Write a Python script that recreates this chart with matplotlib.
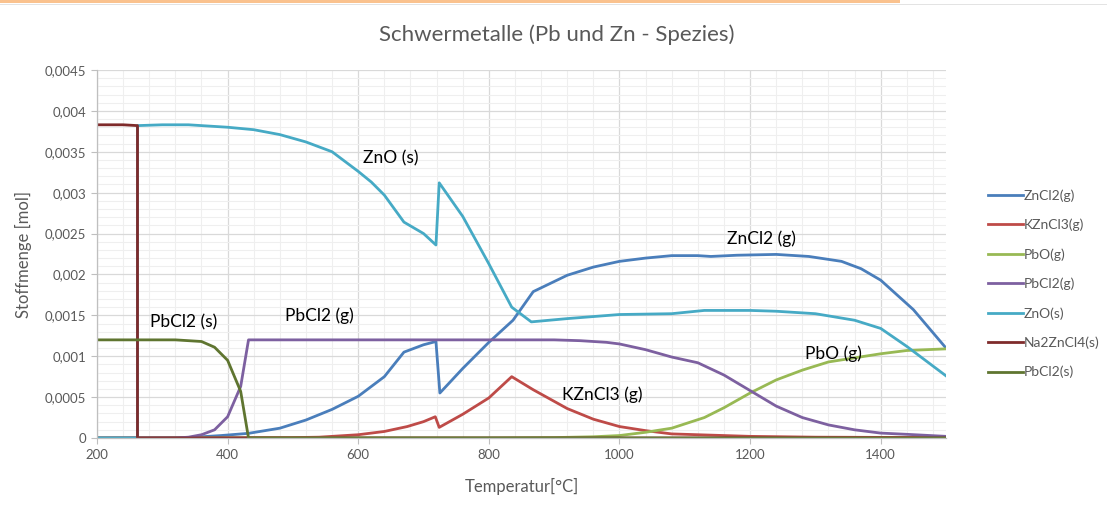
import matplotlib
matplotlib.use("Agg")
import matplotlib.pyplot as plt
from matplotlib.patches import Rectangle
from matplotlib.ticker import MultipleLocator

plt.rcParams['font.family'] = ['Lato', 'DejaVu Sans']

# Temperatur [°C] / Stoffmenge [mol] je Spezies
t_zncl2 = [200, 340, 390, 432, 480, 520, 560, 600, 640, 670, 700, 719, 725, 760, 800, 837, 868,
           920, 960, 1000, 1040, 1080, 1120, 1140, 1180, 1240, 1290, 1340, 1370, 1400, 1450, 1500]
zncl2 = [0, 0.000005, 0.00003, 0.000057, 0.00012, 0.00022, 0.00035, 0.00051, 0.00075, 0.00105,
         0.00114, 0.00118, 0.00055, 0.00085, 0.00117, 0.00144, 0.00179,
         0.00199, 0.00209, 0.00216, 0.0022, 0.00223, 0.00223, 0.00222, 0.002235, 0.002245,
         0.00222, 0.00216, 0.00207, 0.00193, 0.00157, 0.0011]

t_kzncl3 = [200, 500, 540, 600, 640, 675, 700, 718, 724, 760, 800, 835, 868, 920, 960, 1000,
            1040, 1080, 1120, 1160, 1200, 1300, 1500]
kzncl3 = [0, 0.000005, 0.00001, 0.00004, 0.00008, 0.00014, 0.0002, 0.00026, 0.00013, 0.00029,
          0.00049, 0.00075, 0.00059, 0.00036, 0.00023, 0.00014,
          0.00009, 0.00005, 0.00004, 0.00003, 0.00002, 0.00001, 0.000005]

t_pbo = [200, 800, 900, 960, 1000, 1040, 1080, 1130, 1160, 1200, 1240, 1280, 1320, 1360,
         1400, 1440, 1500]
pbo = [0, 0, 0.000005, 0.000015, 0.00003, 0.00007, 0.00012, 0.00025, 0.00037, 0.00055,
       0.00071, 0.00083, 0.00093, 0.00098, 0.00103, 0.00107, 0.00109]

t_pbcl2_g = [200, 320, 340, 360, 380, 400, 420, 432, 900, 940, 980, 1000, 1040, 1080, 1120,
             1160, 1200, 1240, 1280, 1320, 1360, 1400, 1440, 1500]
pbcl2_g = [0, 0, 0.00001, 0.00004, 0.0001, 0.00026, 0.00063, 0.0012, 0.0012, 0.00119,
           0.00117, 0.00115, 0.00108, 0.00099, 0.00092,
           0.00077, 0.00058, 0.00039, 0.00025, 0.00016, 0.0001, 0.00006, 0.000045, 0.00002]

t_zno = [200, 262, 262, 300, 340, 400, 440, 480, 520, 560, 600, 620, 640, 670, 700, 719, 724,
         760, 800, 835, 865, 920, 1000, 1080, 1130, 1200, 1240, 1300, 1360, 1400, 1440, 1480, 1500]
zno = [0, 0, 0.00382, 0.00383, 0.00383, 0.0038, 0.00377, 0.00371, 0.00362, 0.0035, 0.00326,
       0.00313, 0.00297, 0.00264, 0.0025, 0.00236, 0.00312,
       0.00271, 0.00213, 0.0016, 0.00142, 0.00146, 0.00151, 0.00152, 0.00156, 0.00156,
       0.00155, 0.00152, 0.00144, 0.00134, 0.00112, 0.00088, 0.00076]

t_na2zncl4 = [200, 240, 262, 262, 1500]
na2zncl4 = [0.00383, 0.00383, 0.00382, 0, 0]

t_pbcl2_s = [200, 320, 340, 360, 380, 400, 420, 432, 1500]
pbcl2_s = [0.0012, 0.0012, 0.00119, 0.00118, 0.00111, 0.00095, 0.00057, 0, 0]

series = [
    ("ZnCl2(g)", t_zncl2, zncl2, "#4A7EBB"),
    ("KZnCl3(g)", t_kzncl3, kzncl3, "#BE4B48"),
    ("PbO(g)", t_pbo, pbo, "#98B954"),
    ("PbCl2(g)", t_pbcl2_g, pbcl2_g, "#7D60A0"),
    ("ZnO(s)", t_zno, zno, "#46AAC5"),
    ("Na2ZnCl4(s)", t_na2zncl4, na2zncl4, "#7F2B2B"),
    ("PbCl2(s)", t_pbcl2_s, pbcl2_s, "#5F7530"),
]

# Beschriftungen im Diagramm: Text, Temperatur, Stoffmenge
labels = [
    ("ZnO (s)", 650, 0.00342),
    ("PbCl2 (s)", 332, 0.00142),
    ("PbCl2 (g)", 541, 0.00149),
    ("ZnCl2 (g)", 1218, 0.00244),
    ("PbO (g)", 1327, 0.00103),
    ("KZnCl3 (g)", 973, 0.00053),
]

x_ticks = [200, 400, 600, 800, 1000, 1200, 1400]
y_ticks = [0, 0.0005, 0.001, 0.0015, 0.002, 0.0025, 0.003, 0.0035, 0.004, 0.0045]
y_ticklabels = ["0", "0,0005", "0,001", "0,0015", "0,002", "0,0025", "0,003",
                "0,0035", "0,004", "0,0045"]

grey = "#595959"

fig = plt.figure(figsize=(11.07, 5.14), dpi=100)
ax = fig.add_axes([97 / 1107, 1 - 438 / 514, (946 - 97) / 1107, (438 - 70) / 514])

for name, t, v, c in series:
    ax.plot(t, v, color=c, lw=2.0, label=name, solid_joinstyle="round")

for txt, t, v in labels:
    ax.text(t, v, txt, ha="center", va="center", fontsize=12.5, color="black")

ax.set_xlim(200, 1500)
ax.set_ylim(0, 0.0045)
ax.set_xticks(x_ticks)
ax.set_yticks(y_ticks)
ax.set_yticklabels(y_ticklabels)
ax.xaxis.set_minor_locator(MultipleLocator(40))
ax.yaxis.set_minor_locator(MultipleLocator(0.0001))

ax.grid(which="major", color="#D9D9D9", lw=0.9)
ax.grid(which="minor", color="#EFEFEF", lw=0.8)
ax.set_axisbelow(True)

for s in ("top", "right"):
    ax.spines[s].set_visible(False)
for s in ("left", "bottom"):
    ax.spines[s].set_color("#BFBFBF")
    ax.spines[s].set_linewidth(0.9)

ax.tick_params(which="major", direction="out", length=4, width=0.8, color="#BFBFBF",
               labelcolor=grey, labelsize=9.5, pad=4)
ax.tick_params(which="minor", length=0)

ax.set_xlabel("Temperatur[°C]", color=grey, fontsize=12, labelpad=12)
ax.set_ylabel("Stoffmenge [mol]", color=grey, fontsize=12, labelpad=9)
fig.text(0.503, 1 - 35 / 514, "Schwermetalle (Pb und Zn - Spezies)", color=grey,
         fontsize=16, ha="center", va="center")

fig.legend(loc="upper left", bbox_to_anchor=(988 / 1107, 1 - 189 / 514), frameon=False,
           fontsize=10, labelcolor=grey, handlelength=2.5, handletextpad=0.1,
           labelspacing=1.22, borderpad=0, borderaxespad=0)

# Balken am oberen Rand
fig.patches.append(Rectangle((0, 1 - 3 / 514), 900 / 1107, 3 / 514, transform=fig.transFigure,
                             facecolor="#FAC28E", edgecolor="none"))
fig.patches.append(Rectangle((0, 1 - 5 / 514), 1, 1.5 / 514, transform=fig.transFigure,
                             facecolor="#E3E3E3", edgecolor="none"))

fig.savefig("out.png", dpi=100)
